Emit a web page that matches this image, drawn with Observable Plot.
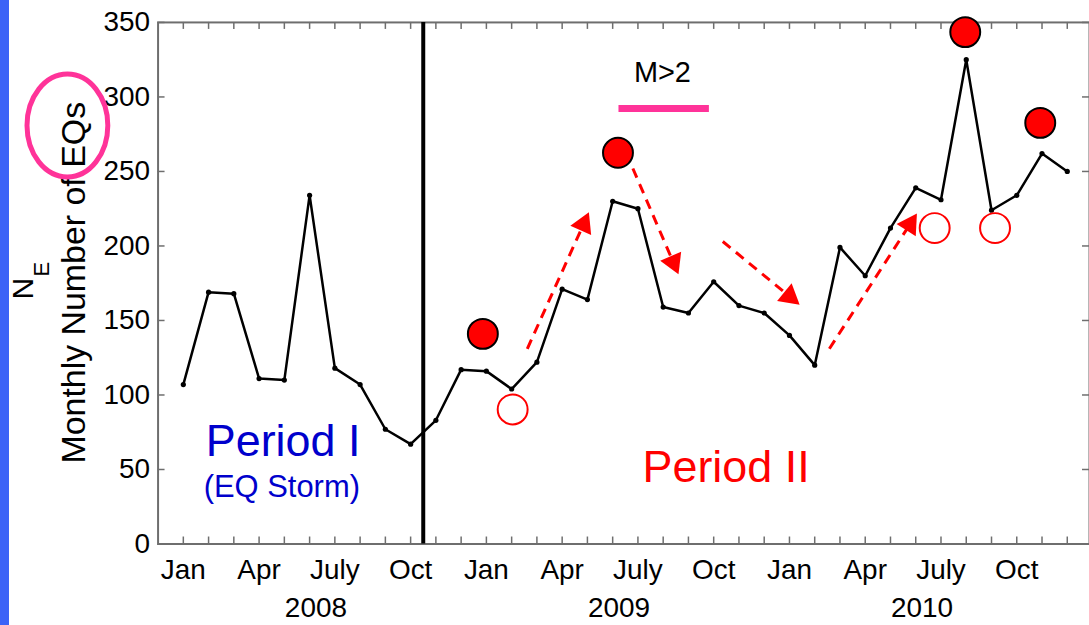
<!DOCTYPE html>
<html><head><meta charset="utf-8">
<script src="https://cdn.jsdelivr.net/npm/d3@7"></script>
<script src="https://cdn.jsdelivr.net/npm/@observablehq/plot@0.6"></script>
<style>
body{margin:0;background:#fff;}
#wrap{position:relative;width:1089px;height:625px;overflow:hidden;background:#fff;}
#stripe{position:absolute;left:0;top:0;width:9px;height:625px;background:#3b63f7;}
svg{font-family:"Liberation Sans",Arial,sans-serif;}
</style></head><body><div id="wrap"><div id="stripe"></div></div>
<script>
// monthly number of earthquakes (M>2), Jan 2008 .. Dec 2010
const months = ["2008-01","2008-02","2008-03","2008-04","2008-05","2008-06","2008-07","2008-08","2008-09","2008-10","2008-11","2008-12",
                "2009-01","2009-02","2009-03","2009-04","2009-05","2009-06","2009-07","2009-08","2009-09","2009-10","2009-11","2009-12",
                "2010-01","2010-02","2010-03","2010-04","2010-05","2010-06","2010-07","2010-08","2010-09","2010-10","2010-11","2010-12"];
const counts = [107,169,168,111,110,234,118,107,77,67,83,117,
                116,104,122,171,164,230,225,159,155,176,160,155,
                140,120,199,180,212,239,231,325,224,234,262,250];
const monthTickLabels = ["Jan","Apr","July","Oct","Jan","Apr","July","Oct","Jan","Apr","July","Oct"];
const monthTickPos = [1,4,7,10,13,16,19,22,25,28,31,34];
const yearLabels = ["2008","2009","2010"];
const yearPos = [6.25,18.25,30.25];
const yTicks = [0,50,100,150,200,250,300,350];
const boundary = [10.5];
// annotations (x in month index, y in counts)
const peaks = [{x:12.86,y:141},{x:18.21,y:262.5},{x:31.96,y:343.5},{x:34.93,y:282.6}];
const troughs = [{x:14.04,y:90.3},{x:30.75,y:212},{x:33.14,y:212}];
const arrows = [{x1:14.62,y1:131,x2:17.03,y2:221.5},{x1:18.80,y1:252,x2:20.58,y2:182},
                {x1:22.36,y1:203,x2:25.35,y2:161.3},{x1:26.58,y1:131,x2:30.01,y2:220.8}];
const periodLabels = [{x:4.95,y:69,text:"Period I",color:"#0000cc",size:45},
                      {x:4.9,y:38,text:"(EQ Storm)",color:"#0000cc",size:31},
                      {x:22.49,y:51.5,text:"Period II",color:"#ff0000",size:45}];
const magLabel = [{x:19.97,y:316,text:"M>2"}];
const magBar = [{x1:18.23,x2:21.81,y:292.2}];
const ellipseBox = [{x1:-5.17,x2:-1.97,y1:246,y2:315}];

const W = 1092, H = 625, ML = 158, MR = 0, MT = 22, MB = 80;
const XD = [0, 36.88], YD = [0, 350];
const kx = (W - ML - MR) / (XD[1] - XD[0]);
const ky = (H - MT - MB) / (YD[1] - YD[0]);

const data = months.map((m, i) => ({idx: i + 1, month: m, n: counts[i]}));
const heads = arrows.map(a => {
  const dxp = (a.x2 - a.x1) * kx, dyp = -(a.y2 - a.y1) * ky;
  const len = Math.hypot(dxp, dyp), ux = dxp / len, uy = dyp / len;
  const off = 11.5;
  return {x: a.x2 - off * ux / kx, y: a.y2 + off * uy / ky, rot: Math.atan2(ux, -uy) * 180 / Math.PI};
});
const shafts = arrows.map((a, i) => ({x1: a.x1, y1: a.y1, x2: heads[i].x, y2: heads[i].y}));
const allMonthIdx = data.map(d => d.idx);
const axisGray = "#6e6e6e";

const chart = Plot.plot({
  width: W, height: H,
  marginLeft: ML, marginRight: MR, marginTop: MT, marginBottom: MB,
  style: {fontFamily: "'Liberation Sans', Arial, sans-serif", background: "transparent", overflow: "visible"},
  x: {domain: XD, axis: null},
  y: {domain: YD, axis: null},
  marks: [
    // inward tick marks on all four sides
    Plot.ruleX(allMonthIdx, {x: d => d, y1: 0, y2: 7 / ky, stroke: axisGray, strokeWidth: 1.5}),
    Plot.ruleX(allMonthIdx, {x: d => d, y1: 350, y2: 350 - 7 / ky, stroke: axisGray, strokeWidth: 1.5}),
    Plot.ruleY(yTicks, {y: d => d, x1: 0, x2: 7 / kx, stroke: axisGray, strokeWidth: 1.5}),
    Plot.ruleY(yTicks, {y: d => d, x1: XD[1], x2: XD[1] - 7 / kx, stroke: axisGray, strokeWidth: 1.5}),
    Plot.frame({stroke: axisGray, strokeWidth: 2}),
    Plot.axisX({ticks: monthTickPos, tickFormat: (d, i) => monthTickLabels[i], tickSize: 0, tickPadding: 15, fontSize: 28, fill: "#000"}),
    Plot.axisX({ticks: yearPos, tickFormat: (d, i) => yearLabels[i], tickSize: 0, tickPadding: 53, fontSize: 28, fill: "#000"}),
    Plot.axisY({ticks: yTicks, tickSize: 0, tickPadding: 8, fontSize: 28, fill: "#000"}),
    // y label
    Plot.text(["Monthly Number of EQs"], {frameAnchor: "left", textAnchor: "middle", dx: -84, dy: -0.5, rotate: -90, fontSize: 34, fill: "#000"}),
    Plot.text(["N"], {frameAnchor: "left", textAnchor: "middle", dx: -135, dy: 5.5, rotate: -90, fontSize: 30, fill: "#000"}),
    Plot.text(["E"], {frameAnchor: "left", textAnchor: "middle", dx: -116, dy: -14, rotate: -90, fontSize: 22, fill: "#000"}),
    Plot.rect(ellipseBox, {x1: "x1", x2: "x2", y1: "y1", y2: "y2", rx: 300, ry: 300, fill: "none", stroke: "#ff3399", strokeWidth: 5}),
    // period boundary
    Plot.ruleX(boundary, {stroke: "#000", strokeWidth: 4}),
    // data
    Plot.line(data, {x: "idx", y: "n", stroke: "#000", strokeWidth: 2.5}),
    Plot.dot(data, {x: "idx", y: "n", r: 2.6, fill: "#000"}),
    // annotations
    Plot.link(shafts, {x1: "x1", y1: "y1", x2: "x2", y2: "y2", stroke: "#ff0000", strokeWidth: 3, strokeDasharray: "10,7"}),
    Plot.dot(heads, {x: "x", y: "y", symbol: "triangle", r: 8.5, fill: "#ff0000", stroke: "none", rotate: "rot"}),
    Plot.dot(peaks, {x: "x", y: "y", r: 15, fill: "#ff0000", stroke: "#000", strokeWidth: 2}),
    Plot.dot(troughs, {x: "x", y: "y", r: 15, fill: "none", stroke: "#ff0000", strokeWidth: 2}),
    Plot.text(periodLabels, {x: "x", y: "y", text: "text", fill: "color", fontSize: d => d.size}),
    Plot.text(magLabel, {x: "x", y: "y", text: "text", fontSize: 29, fill: "#000"}),
    Plot.link(magBar, {x1: "x1", x2: "x2", y1: "y", y2: "y", stroke: "#ff3399", strokeWidth: 7})
  ]
});
document.getElementById("wrap").prepend(chart);
</script>
</body></html>
